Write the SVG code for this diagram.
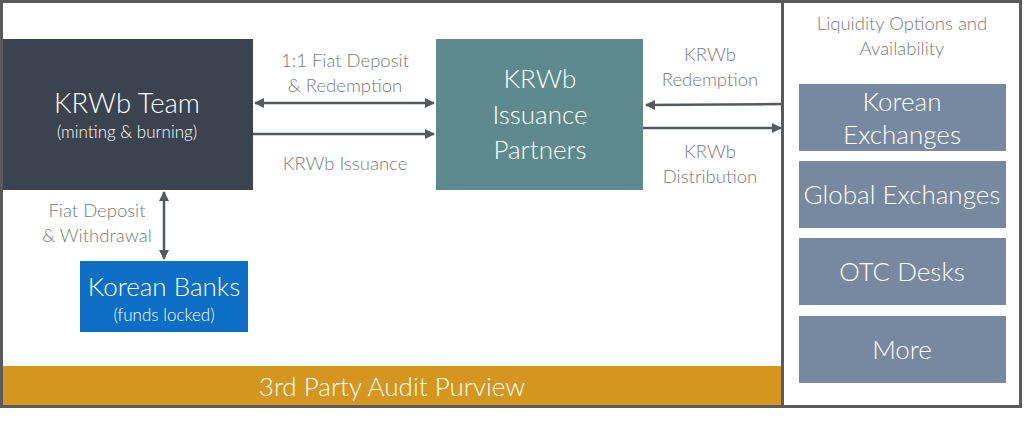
<svg xmlns="http://www.w3.org/2000/svg" width="1024" height="422" viewBox="0 0 1024 422">
<style>
text{font-family:Lato,"Open Sans","Liberation Sans",sans-serif;font-weight:300;text-anchor:middle}
.lbl{fill:#7a7a7a;font-size:18.5px}
.w{fill:#ffffff}
.big{font-size:26px}
.med{font-size:26px}
.sm{font-size:17px}
.ln{stroke:#555a5e;stroke-width:2.5;fill:none}
</style>
<defs>
<marker id="ah" viewBox="0 0 10 10" refX="9" refY="5" markerWidth="4" markerHeight="4" orient="auto-start-reverse">
<path d="M0,0 L10,5 L0,10 z" fill="#555a5e"/>
</marker>
</defs>
<rect width="1024" height="422" fill="#ffffff"/>
<g id="frames">
<rect x="1.5" y="1.5" width="781" height="405" fill="none" stroke="#5a5a5a" stroke-width="3"/>
<rect x="782.5" y="1.5" width="238" height="405" fill="none" stroke="#5a5a5a" stroke-width="3"/>
</g>
<g id="audit">
<rect x="3" y="366" width="778" height="39" fill="#D4961E"/>
<text class="w" x="392" y="396" font-size="26">3rd Party Audit Purview</text>
</g>
<g id="team">
<rect x="3" y="39" width="250" height="151" fill="#3C4350"/>
<text class="w" x="127" y="113" font-size="27.5">KRWb Team</text>
<text class="w sm" x="127" y="138">(minting &amp; burning)</text>
</g>
<g id="partners">
<rect x="436" y="39" width="207" height="151" fill="#5E8A8E"/>
<text class="w big" x="540" y="88">KRWb</text>
<text class="w big" x="540" y="124">Issuance</text>
<text class="w big" x="540" y="159">Partners</text>
</g>
<g id="banks">
<rect x="80" y="261" width="168" height="71" fill="#0C6EC4"/>
<text class="w med" x="164" y="296">Korean Banks</text>
<text class="w sm" x="164" y="321">(funds locked)</text>
</g>
<g id="liquidity">
<text class="lbl" x="902" y="30">Liquidity Options and</text>
<text class="lbl" x="902" y="55">Availability</text>
</g>
<g id="korean-exchanges">
<rect x="799" y="84" width="207" height="67" fill="#7689A0"/>
<text class="w med" x="902" y="111">Korean</text>
<text class="w med" x="902" y="144">Exchanges</text>
</g>
<g id="global-exchanges">
<rect x="799" y="161" width="207" height="67" fill="#7689A0"/>
<text class="w med" x="902" y="204">Global Exchanges</text>
</g>
<g id="otc">
<rect x="799" y="238" width="207" height="67" fill="#7689A0"/>
<text class="w med" x="902" y="281">OTC Desks</text>
</g>
<g id="more">
<rect x="799" y="316" width="207" height="67" fill="#7689A0"/>
<text class="w med" x="902" y="359">More</text>
</g>
<g id="connectors">
<line class="ln" x1="255" y1="103" x2="434" y2="103" marker-start="url(#ah)" marker-end="url(#ah)"/>
<line class="ln" x1="253" y1="134" x2="434" y2="134" marker-end="url(#ah)"/>
<line class="ln" x1="781" y1="104" x2="646" y2="105" marker-end="url(#ah)"/>
<line class="ln" x1="643" y1="128" x2="781" y2="128" marker-end="url(#ah)"/>
<line class="ln" x1="164" y1="192" x2="164" y2="259" marker-start="url(#ah)" marker-end="url(#ah)"/>
<text class="lbl" x="345" y="67">1:1 Fiat Deposit</text>
<text class="lbl" x="345" y="92">&amp; Redemption</text>
<text class="lbl" x="345" y="170">KRWb Issuance</text>
<text class="lbl" x="710" y="61">KRWb</text>
<text class="lbl" x="710" y="86">Redemption</text>
<text class="lbl" x="710" y="158">KRWb</text>
<text class="lbl" x="710" y="183">Distribution</text>
<text class="lbl" x="97" y="217">Fiat Deposit</text>
<text class="lbl" x="97" y="242">&amp; Withdrawal</text>
</g>
</svg>
